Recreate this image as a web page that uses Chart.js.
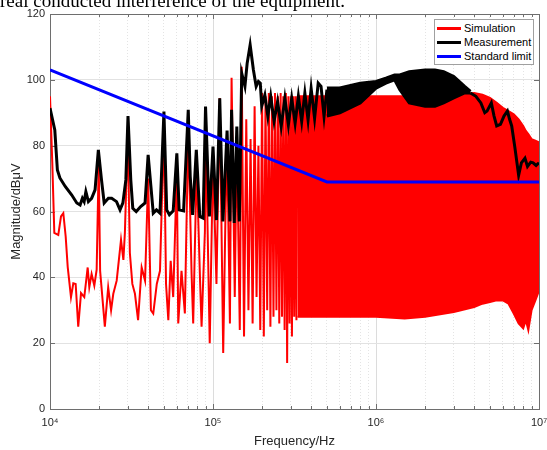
<!DOCTYPE html>
<html>
<head>
<meta charset="utf-8">
<script src="https://cdn.jsdelivr.net/npm/chart.js@4"></script>
<style>
  html, body { margin: 0; padding: 0; background: #fff; }
  #wrap { position: relative; width: 547px; height: 450px; overflow: hidden; }
  #caption { position: absolute; left: 0; top: -9px; font-family: "Liberation Serif", "Times New Roman", serif; font-size: 19px; line-height: 19px; white-space: nowrap; color: #000; }
  #legend { position: absolute; left: 434px; top: 19px; width: 100px; height: 46px; border: 1px solid #a0a0a0; background: #fff; box-sizing: border-box; font-family: "Liberation Sans", Arial, sans-serif; font-size: 11px; color: #000; }
  .row { position: absolute; left: 0; height: 13px; width: 98px; }
  .sw { position: absolute; left: 2px; top: 5px; width: 24px; height: 3px; }
  .tx { position: absolute; left: 29px; top: 0; line-height: 13px; white-space: nowrap; }
</style>
</head>
<body>
<div id="wrap">
  <canvas id="chart" width="547" height="450"></canvas>
  <div id="caption">real conducted interference of the equipment.</div>
  <div id="legend"></div>
</div>
<script>
// axis ticks
const xMajorTicks = [1e4, 1e5, 1e6, 1e7];
const xTickLabels = ["10\u2074", "10\u2075", "10\u2076", "10\u2077"];
const yTicks = [0, 20, 40, 60, 80, 100, 120];

// standard limit (blue)
const limitFreq = [1e4, 5e5, 1e7];
const limitVals = [103, 69, 69];

// measurement (black), low part
const measLowFreq = [1e4, 1.07e4, 1.11e4, 1.15e4, 1.24e4, 1.36e4, 1.46e4, 1.53e4, 1.58e4, 1.62e4, 1.66e4, 1.72e4, 1.8e4, 1.89e4, 1.98e4, 2.07e4, 2.15e4, 2.28e4, 2.39e4, 2.56e4, 2.69e4, 2.8e4, 2.92e4, 3.01e4, 3.13e4, 3.22e4, 3.38e4, 3.6e4, 3.83e4, 4.0e4, 4.16e4, 4.3e4, 4.5e4, 4.73e4, 5.0e4, 5.2e4, 5.4e4, 5.7e4, 6.0e4, 6.2e4, 6.6e4, 7.05e4, 7.25e4, 7.5e4, 7.9e4, 8.3e4, 8.7e4, 9.0e4, 9.5e4, 1.0e5, 1.05e5, 1.1e5, 1.15e5, 1.22e5, 1.27e5, 1.3e5, 1.35e5, 1.4e5, 1.45e5, 1.5e5, 1.57e5, 1.62e5, 1.69e5, 1.77e5, 1.84e5, 1.9e5, 1.95e5, 1.99e5, 2.08e5, 2.17e5, 2.26e5, 2.37e5, 2.49e5, 2.62e5, 2.76e5, 2.9e5, 3.04e5, 3.19e5, 3.34e5, 3.5e5, 3.66e5, 3.83e5, 4.0e5, 4.2e5, 4.42e5, 4.6e5, 4.8e5, 5.0e5];
const measLowVals = [91.4, 84.8, 72.6, 70.2, 67.6, 65, 62.6, 62, 64, 63, 66, 63, 64, 66.6, 78.7, 69.6, 62.6, 64, 64, 63, 60.5, 62.6, 69.6, 89, 69.6, 61, 60, 61.5, 62.6, 77.2, 67.6, 59.5, 60.5, 59.5, 90.4, 60.5, 59, 60.2, 77.7, 60.5, 60.2, 90.9, 70.6, 59, 78.7, 58.5, 58, 91.9, 58.5, 79.7, 57.4, 94.4, 57, 84.6, 57, 90.9, 56.5, 85.8, 57, 102, 98, 105, 110.6, 103, 98, 99.5, 99, 92, 95.4, 88.9, 95, 87.4, 93.4, 85.8, 94.4, 86.3, 94.4, 86.8, 95, 87.4, 96, 87.8, 97.4, 88.3, 99, 98, 88.9, 97];

// measurement, dense part (envelope)
const measBandFreq = [5e5, 6e5, 8e5, 1e6, 1.15e6, 1.3e6, 1.4e6, 1.6e6, 2e6, 2.3e6, 2.6e6, 3e6, 3.5e6, 3.8e6];
const measBandHi = [97.5, 97.5, 99, 99.5, 100.5, 101.5, 101.5, 102.5, 103, 103, 102.5, 101, 98, 96.5];
const measBandLo = [89, 90, 93, 97.5, 99, 100, 97, 93, 92, 92, 93, 94.5, 96, 96];

// measurement, high frequency tail
const measTailFreq = [3.8e6, 4.1e6, 4.4e6, 4.65e6, 4.8e6, 5.1e6, 5.3e6, 5.5e6, 5.8e6, 6.1e6, 6.4e6, 6.6e6, 6.8e6, 7.1e6, 7.5e6, 7.8e6, 8.2e6, 8.5e6, 8.9e6, 9.2e6, 9.6e6, 1e7];
const measTailVals = [96, 95, 93, 90, 90.5, 93, 89, 86, 86.5, 89, 90.5, 88, 86, 79.7, 71, 74.8, 76.2, 73.7, 75, 74.8, 74, 74.8];

// simulation (red), low part
const simLowFreq = [1e4, 1.033e4, 1.063e4, 1.124e4, 1.168e4, 1.207e4, 1.248e4, 1.284e4, 1.345e4, 1.39e4, 1.437e4, 1.49e4, 1.55e4, 1.623e4, 1.703e4, 1.742e4, 1.8e4, 1.87e4, 1.933e4, 1.99e4, 2.03e4, 2.07e4, 2.17e4, 2.275e4, 2.37e4, 2.445e4, 2.565e4, 2.727e4, 2.82e4, 2.88e4, 3.0e4, 3.09e4, 3.2e4, 3.32e4, 3.47e4, 3.65e4, 3.83e4, 4.0e4, 4.16e4, 4.3e4, 4.52e4, 4.73e4, 5.0e4, 5.15e4, 5.32e4, 5.5e4, 5.7e4, 6.0e4, 6.12e4, 6.41e4, 6.72e4, 7.05e4, 7.39e4, 7.56e4, 7.94e4, 8.33e4, 8.51e4, 8.92e4, 9.0e4, 9.55e4, 1.0e5, 1.05e5, 1.1e5, 1.155e5, 1.19e5, 1.22e5, 1.27e5, 1.3e5, 1.36e5, 1.4e5, 1.46e5];
const simLowVals = [95, 74.7, 53.5, 52.9, 58.5, 59.5, 52.4, 43.2, 34, 38.2, 38, 25, 35.2, 34, 43, 37, 41, 37.5, 42.3, 74.8, 42, 37, 25, 37, 30, 35, 39, 51.4, 45.3, 53.5, 84, 47.4, 38, 35, 27, 43, 39, 70, 30, 29, 38, 42, 86, 38, 27, 45, 34, 72, 26, 42, 29, 85, 41, 26, 74, 39, 25, 54, 88, 20, 76, 38, 94.5, 17, 56, 82, 26, 100.6, 34, 83, 24];

// simulation, harmonic spikes
const simSpikeFreq = [1.5e5, 1.55e5, 1.6e5, 1.65e5, 1.7e5, 1.75e5, 1.8e5, 1.85e5, 1.9e5, 1.95e5, 2.0e5, 2.05e5, 2.1e5, 2.15e5, 2.2e5, 2.25e5, 2.3e5, 2.35e5, 2.4e5, 2.45e5, 2.5e5, 2.55e5, 2.6e5, 2.65e5, 2.7e5, 2.75e5, 2.8e5, 2.85e5, 2.9e5, 2.95e5, 3.0e5, 3.05e5, 3.1e5, 3.15e5, 3.2e5, 3.25e5, 3.3e5];
const simSpikeVals = [104, 22, 88, 30, 82, 26, 92, 34, 80, 24, 96, 22, 95, 30, 96, 25, 95, 28, 96, 30, 95, 26, 96, 28, 95, 24, 96, 14, 95, 26, 95, 22, 95, 28, 95, 27, 95];

// simulation, dense part (envelope)
const simBandFreq = [3.3e5, 5e5, 6e5, 1e6, 1.5e6, 2e6, 3e6, 4e6, 4.5e6, 5e6, 5.5e6, 6e6, 6.5e6, 7e6, 7.5e6, 8e6, 8.3e6, 8.6e6, 9e6, 9.5e6, 1e7];
const simBandHi = [95, 95, 95, 95, 95, 95, 95.5, 96, 95.5, 94.5, 93, 91.5, 90.5, 89.5, 88, 86, 84.5, 83.5, 82, 81.5, 81];
const simBandLo = [28, 28, 28, 28, 27.5, 28, 29.5, 31, 32, 32.5, 33, 33, 32, 29, 26, 24.5, 27, 24, 30, 33, 36];

const RED = "#ff0000";
const BLACK = "#000000";
const BLUE = "#0000ff";

const pts = (fs, vs) => fs.map((f, i) => ({ x: f, y: vs[i] }));

const xGridTicks = [];
for (let d = 1e4; d < 1e7; d *= 10) {
  for (let m = 1; m < 10; m++) xGridTicks.push(m * d);
}
xGridTicks.push(1e7);

const isMajor = (v) => xMajorTicks.some((m) => Math.abs(m - v) / m < 1e-6);

const line = (label, data, color, width, order, extra) =>
  Object.assign({
    label: label,
    data: data,
    borderColor: color,
    backgroundColor: color,
    borderWidth: width,
    pointRadius: 0,
    tension: 0,
    fill: false,
    order: order,
    spanGaps: false,
  }, extra || {});

const datasets = [
  line("Simulation", pts(simLowFreq, simLowVals).concat(pts(simSpikeFreq, simSpikeVals)), RED, 2, 3),
  line("_simHi", pts(simBandFreq, simBandHi), RED, 2, 3, { fill: "+1" }),
  line("_simLo", pts(simBandFreq, simBandLo), RED, 2, 3),
  line("Measurement", pts(measLowFreq, measLowVals).concat([{ x: 1e6, y: null }], pts(measTailFreq, measTailVals)), BLACK, 3, 2),
  line("_measHi", pts(measBandFreq, measBandHi), BLACK, 3, 2, { fill: "+1" }),
  line("_measLo", pts(measBandFreq, measBandLo), BLACK, 3, 2),
  line("Standard limit", pts(limitFreq, limitVals), BLUE, 3, 1),
];

// MATLAB-style box with inward ticks
const boxPlugin = {
  id: "box",
  beforeDatasetsDraw(chart) {
    const { ctx, chartArea: a } = chart;
    const xs = chart.scales.x, ys = chart.scales.y;
    ctx.save();
    ctx.strokeStyle = "#6e6e6e";
    ctx.lineWidth = 1;
    ctx.beginPath();
    xGridTicks.forEach((v) => {
      const px = Math.round(xs.getPixelForValue(v)) + 0.5;
      const len = isMajor(v) ? 5 : 3;
      ctx.moveTo(px, a.bottom); ctx.lineTo(px, a.bottom - len);
      ctx.moveTo(px, a.top); ctx.lineTo(px, a.top + len);
    });
    yTicks.forEach((v) => {
      const py = Math.round(ys.getPixelForValue(v)) + 0.5;
      ctx.moveTo(a.left, py); ctx.lineTo(a.left + 5, py);
      ctx.moveTo(a.right, py); ctx.lineTo(a.right - 5, py);
    });
    ctx.stroke();
    ctx.strokeRect(Math.round(a.left) + 0.5, Math.round(a.top) + 0.5, Math.round(a.right - a.left), Math.round(a.bottom - a.top));
    ctx.restore();
  },
};

new Chart(document.getElementById("chart"), {
  type: "line",
  data: { datasets: datasets },
  options: {
    responsive: false,
    animation: false,
    devicePixelRatio: 1,
    layout: { padding: { top: 14, right: 8, left: 0, bottom: 0 } },
    plugins: {
      legend: { display: false },
      tooltip: { enabled: false },
    },
    scales: {
      x: {
        type: "logarithmic",
        min: 1e4,
        max: 1e7,
        afterBuildTicks: (s) => {
          s.ticks = xGridTicks.map((v) => ({ value: v, major: isMajor(v) }));
        },
        afterFit: (s) => {
          s.height = 41;
          s.paddingLeft = 0;
          s.paddingRight = 0;
        },
        ticks: {
          autoSkip: false,
          maxRotation: 0,
          padding: 7,
          color: "#262626",
          font: { family: "Liberation Sans, Arial, sans-serif", size: 11 },
          callback: (v) => {
            const i = xMajorTicks.findIndex((m) => Math.abs(m - v) / m < 1e-6);
            return i >= 0 ? xTickLabels[i] : "";
          },
        },
        grid: {
          drawTicks: false,
          color: (c) => (c.tick && isMajor(c.tick.value) ? "#dcdcdc" : "#e4e4e4"),
        },
        border: {
          color: "#6e6e6e",
          dash: (c) => (c.tick && isMajor(c.tick.value) ? [] : [1, 2]),
        },
        title: {
          display: true,
          text: "Frequency/Hz",
          color: "#262626",
          font: { family: "Liberation Sans, Arial, sans-serif", size: 13 },
          padding: { top: 0, bottom: 1 },
        },
      },
      y: {
        min: 0,
        max: 120,
        afterBuildTicks: (s) => {
          s.ticks = yTicks.map((v) => ({ value: v }));
        },
        afterFit: (s) => {
          s.width = 50;
          s.paddingTop = 0;
          s.paddingBottom = 0;
        },
        ticks: {
          padding: 5,
          color: "#262626",
          font: { family: "Liberation Sans, Arial, sans-serif", size: 11 },
        },
        grid: { drawTicks: false, color: "#e2e2e2" },
        border: { color: "#6e6e6e" },
        title: {
          display: true,
          text: "Magnitude/dB\u03bcV",
          color: "#262626",
          font: { family: "Liberation Sans, Arial, sans-serif", size: 13 },
          padding: { top: 9, bottom: 0 },
        },
      },
    },
  },
  plugins: [boxPlugin],
});

// legend box inside the axes (top right)
const legendEl = document.getElementById("legend");
datasets.filter((d) => !d.label.startsWith("_"))
  .forEach((d, i) => {
    const row = document.createElement("div");
    row.className = "row";
    row.style.top = (2 + i * 14) + "px";
    row.innerHTML = '<div class="sw" style="background:' + d.borderColor + '"></div><div class="tx">' + d.label + "</div>";
    legendEl.appendChild(row);
  });
</script>
</body>
</html>
